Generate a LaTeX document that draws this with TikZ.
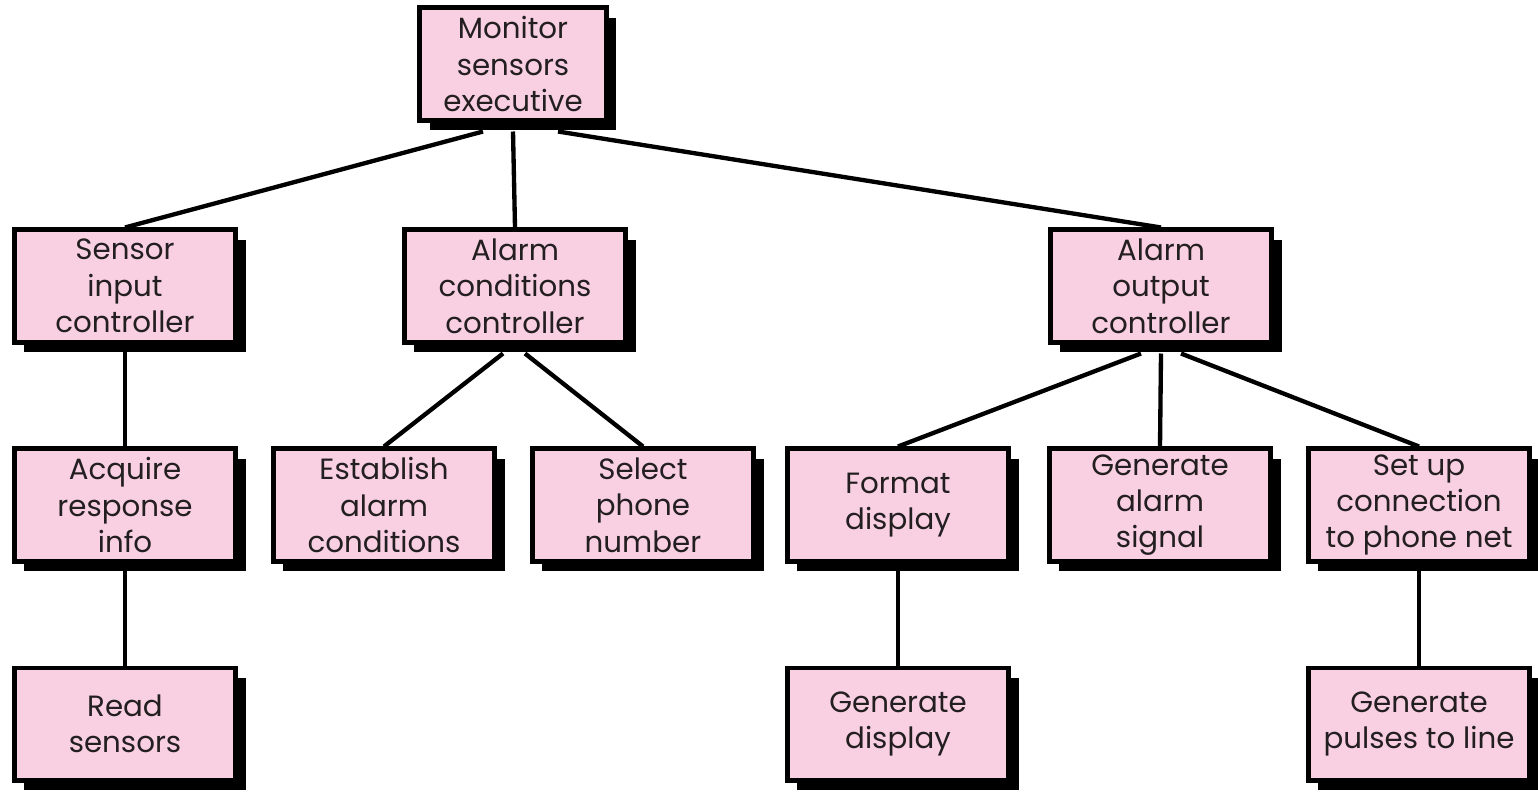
\documentclass[tikz,border=0pt]{standalone}
\usepackage{fontspec}
\setmainfont{Poppins}
\usetikzlibrary{shadows}
\pgfdeclarelayer{background}
\pgfsetlayers{background,main}
\definecolor{boxpink}{RGB}{249,208,226}
\definecolor{ink}{RGB}{35,31,32}
\begin{document}
\begin{tikzpicture}[x=0.03cm, y=-0.03cm,
  module/.style={draw=black, line width=0.14cm, fill=boxpink,
    minimum width=6.64cm, minimum height=3.37cm, inner sep=0pt,
    align=center, text=ink, font=\fontsize{25}{31}\selectfont,
    drop shadow={shadow xshift=0.3cm, shadow yshift=-0.3cm, opacity=1, fill=black}},
  link/.style={line width=0.13cm, draw=black}]
\useasboundingbox (0,0) rectangle (1538,792);

% top level
\node[module, minimum width=5.6cm] (mon) at (513,64) {Monitor\\sensors\\executive};

% second level
\node[module] (sen) at (125,286) {Sensor\\input\\controller};
\node[module] (acd) at (515,286) {Alarm\\conditions\\controller};
\node[module] (aoc) at (1161,286) {Alarm\\output\\controller};

% third level
\node[module] (acq) at (125,505) {Acquire\\response\\info};
\node[module] (est) at (384,505) {Establish\\alarm\\conditions};
\node[module] (sel) at (643,505) {Select\\phone\\number};
\node[module] (fmt) at (898,505) {Format\\display};
\node[module] (gas) at (1160,505) {Generate\\alarm\\signal};
\node[module] (set) at (1419,505) {Set up\\connection\\to phone net};

% fourth level
\node[module] (rd)  at (125,724) {Read\\sensors};
\node[module] (gdp) at (898,724) {Generate\\display};
\node[module] (gpl) at (1419,724) {Generate\\pulses to line};

% connectors, kept behind the boxes
\begin{pgfonlayer}{background}
\draw[link] ([xshift=-0.9cm,yshift=-0.27cm]mon.south) -- (sen.north);
\draw[link] ([yshift=-0.27cm]mon.south) -- (acd.north);
\draw[link] ([xshift=1.35cm,yshift=-0.27cm]mon.south) -- (aoc.north);
\draw[link] (sen.south) -- (acq.north);
\draw[link] (acq.south) -- (rd.north);
\draw[link] ([xshift=-0.36cm,yshift=-0.27cm]acd.south) -- (est.north);
\draw[link] ([xshift=0.3cm,yshift=-0.27cm]acd.south) -- (sel.north);
\draw[link] ([xshift=-0.6cm,yshift=-0.27cm]aoc.south) -- (fmt.north);
\draw[link] ([yshift=-0.27cm]aoc.south) -- (gas.north);
\draw[link] ([xshift=0.6cm,yshift=-0.27cm]aoc.south) -- (set.north);
\draw[link] (fmt.south) -- (gdp.north);
\draw[link] (set.south) -- (gpl.north);
\end{pgfonlayer}
\end{tikzpicture}
\end{document}
